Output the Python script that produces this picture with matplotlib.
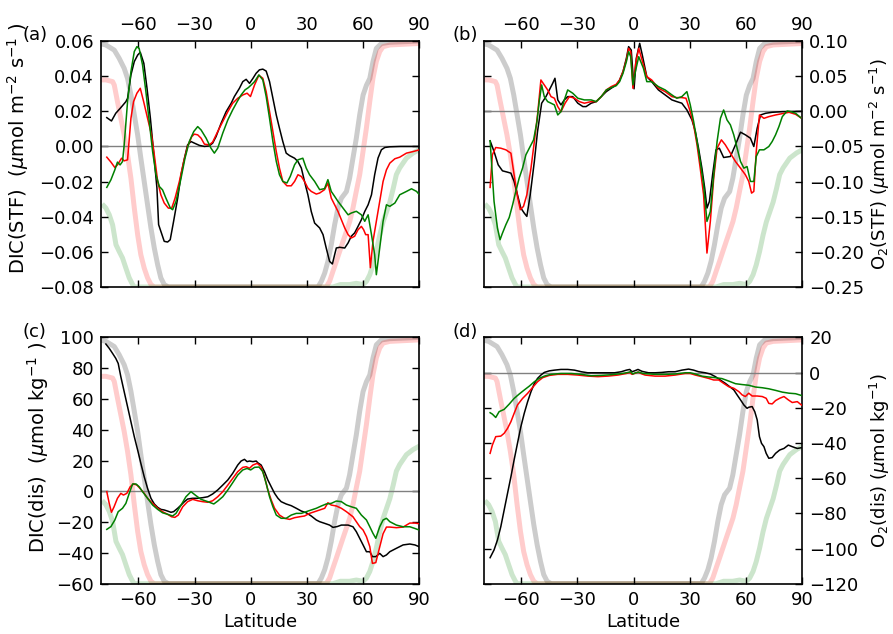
import matplotlib
matplotlib.use('Agg')
import matplotlib.pyplot as plt

plt.rcParams['font.family'] = ['DejaVu Sans']
plt.rcParams['mathtext.fontset'] = 'dejavusans'
FS = 13

# ---------------- background fraction curves (0..1 of panel height) ----------
gray_lat = [-78.5, -77.4, -72.9, -70.3, -67.6, -65.8, -64.0, -62.2, -60.4, -58.7, -56.9, -55.1, -53.3,
            -51.5, -49.7, -48.0, -46.2, -44.0, 34.0, 36.0, 37.8, 39.6, 41.3, 43.1, 44.9, 46.7,
            48.5, 51.2, 52.9, 54.7, 56.5, 58.3, 60.1, 61.9, 63.7, 65.4, 67.2, 69.9, 74.4, 90.0]
gray_frac = [0.986, 0.984, 0.963, 0.93, 0.889, 0.848, 0.781, 0.70, 0.618, 0.524, 0.429, 0.334, 0.24,
             0.158, 0.09, 0.037, 0.01, 0.0, 0.0, 0.0, 0.023, 0.057, 0.104, 0.172, 0.253, 0.321,
             0.361, 0.388, 0.442, 0.524, 0.605, 0.70, 0.78, 0.82, 0.848, 0.916, 0.97, 0.99, 0.995, 1.0]
pink_lat = [-78.5, -77.4, -73.8, -72.9, -71.2, -69.4, -67.6, -65.8, -64.0, -62.2, -60.4, -58.7, -56.9,
            -55.1, -53.3, -51.5, 40.4, 42.2, 44.0, 45.8, 47.6, 49.4, 51.2, 53.0, 54.7, 56.5, 58.3,
            60.1, 61.9, 63.7, 65.4, 67.2, 69.0, 70.8, 74.4, 79.7, 90.0]
pink_frac = [0.842, 0.842, 0.835, 0.821, 0.754, 0.686, 0.618, 0.537, 0.442, 0.321, 0.212, 0.131, 0.077,
             0.037, 0.01, 0.0, 0.0, 0.023, 0.064, 0.104, 0.145, 0.186, 0.226, 0.267, 0.321, 0.39,
             0.457, 0.552, 0.647, 0.755, 0.849, 0.917, 0.957, 0.977, 0.984, 0.986, 0.99]
lgreen_lat = [-78.5, -77.4, -75.6, -73.8, -72.0, -70.3, -68.5, -66.7, -64.9, -63.1, -62.2, 44.0, 48.0,
              52.9, 56.5, 60.1, 61.9, 63.7, 65.4, 67.2, 69.0, 70.8, 72.6, 74.4, 76.2, 77.9, 79.7,
              81.5, 83.3, 86.9, 90.0]
lgreen_frac = [0.33, 0.321, 0.294, 0.253, 0.172, 0.145, 0.118, 0.077, 0.037, 0.01, 0.0, 0.0, 0.01,
               0.01, 0.015, 0.01, 0.023, 0.05, 0.09, 0.145, 0.21, 0.265, 0.305, 0.345, 0.40, 0.457,
               0.484, 0.504, 0.524, 0.545, 0.558]

# ---------------- (a) DIC(STF) ----------------
a_k_lat = [-76.9, -74.4, -72.1, -69.4, -66.7, -65.8, -64.0, -62.2, -60.4, -59.0, -57.1, -55.4, -53.6,
           -51.9, -50.1, -49.2, -47.4, -46.2, -44.4, -43.0, -41.2, -39.0, -37.2, -35.4, -33.7, -31.9,
           -30.1, -27.4, -24.7, -22.1, -20.3, -18.5, -15.8, -13.1, -10.4, -8.7, -6.0, -4.2, -2.4, -0.6,
           1.2, 2.9, 4.7, 6.5, 8.3, 10.1, 11.9, 13.7, 15.4, 17.2, 19.0, 20.8, 23.5, 25.3, 27.1, 28.8,
           30.6, 32.4, 34.2, 36.9, 38.7, 40.4, 42.2, 43.7, 44.9, 45.8, 47.6, 50.3, 52.1, 53.8, 55.6,
           57.4, 59.2, 61.0, 62.8, 64.6, 66.3, 68.1, 69.9, 71.7, 74.4, 80.0, 90.0]
a_k = [0.0164, 0.0145, 0.0189, 0.0221, 0.0255, 0.0274, 0.0407, 0.0483, 0.052, 0.0536, 0.0473, 0.0331,
       0.0161, -0.0029, -0.0237, -0.0445, -0.0502, -0.054, -0.0544, -0.0531, -0.0427, -0.0294, -0.0161,
       -0.0067, 0.0009, 0.0028, 0.0019, 0.0006, 0.0, 0.0003, 0.0019, 0.0056, 0.0132, 0.0198, 0.0246,
       0.0284, 0.0331, 0.0369, 0.0382, 0.0359, 0.0387, 0.0416, 0.0436, 0.044, 0.0429, 0.0369, 0.0274,
       0.0179, 0.0104, 0.0028, -0.0038, -0.0052, -0.0067, -0.0086, -0.0123, -0.0199, -0.0275, -0.037,
       -0.0436, -0.0464, -0.0502, -0.0578, -0.0654, -0.0669, -0.0616, -0.0578, -0.0574, -0.0578,
       -0.0549, -0.0511, -0.0492, -0.0455, -0.0417, -0.037, -0.0332, -0.0275, -0.0161, -0.0066,
       -0.0019, -0.0006, -0.0002, 0.0, 0.0]
a_r_lat = [-76.9, -74.7, -72.6, -71.2, -69.0, -67.6, -65.8, -64.0, -62.6, -60.8, -59.0, -57.2, -55.1,
           -53.0, -51.5, -49.7, -48.0, -46.2, -44.0, -42.2, -40.4, -38.1, -35.8, -33.7, -31.5, -30.1,
           -28.3, -26.5, -24.7, -22.1, -20.3, -17.6, -14.9, -12.2, -9.6, -6.9, -4.2, -1.9, -0.1, 2.1,
           4.4, 6.5, 8.3, 10.1, 11.9, 13.7, 15.4, 17.2, 19.4, 21.7, 23.5, 25.3, 27.1, 28.8, 30.6, 32.4,
           35.1, 36.9, 39.5, 41.3, 43.1, 44.9, 46.7, 48.5, 50.3, 52.1, 53.8, 55.6, 57.4, 59.2, 60.4,
           61.5, 62.8, 64.0, 65.4, 67.2, 69.0, 70.8, 72.6, 74.4, 77.1, 79.7, 83.3, 86.9, 89.9]
a_r = [-0.0061, -0.0089, -0.012, -0.0105, -0.0067, -0.0082, -0.0076, 0.016, 0.0255, 0.0303, 0.0331,
       0.0255, 0.016, 0.0066, -0.0048, -0.0199, -0.0275, -0.0322, -0.0351, -0.0351, -0.0294, -0.0199,
       -0.0086, 0.0, 0.0056, 0.007, 0.0066, 0.0047, 0.0013, 0.0009, 0.0025, 0.0085, 0.0142, 0.0198,
       0.0246, 0.0274, 0.0293, 0.0303, 0.0284, 0.0350, 0.0405, 0.0388, 0.0312, 0.0199, 0.0085, -0.0029,
       -0.0123, -0.0199, -0.0224, -0.0224, -0.0199, -0.0161, -0.0171, -0.0199, -0.0237, -0.0256,
       -0.0271, -0.0265, -0.0246, -0.0209, -0.0294, -0.0332, -0.037, -0.0417, -0.0464, -0.0502,
       -0.0521, -0.0511, -0.0474, -0.0455, -0.0474, -0.0502, -0.0502, -0.069, -0.054, -0.0426,
       -0.0313, -0.0199, -0.0133, -0.0095, -0.007, -0.0061, -0.0038, -0.0029, -0.002]
a_g_lat = [-76.9, -74.7, -72.6, -71.2, -69.8, -68.5, -67.6, -65.8, -64.0, -62.2, -60.8, -59.6, -57.8,
           -56.0, -54.2, -52.4, -50.6, -48.8, -47.1, -45.3, -42.9, -41.7, -39.9, -37.2, -35.1, -32.8,
           -30.4, -28.3, -26.5, -23.8, -21.2, -19.4, -17.6, -14.9, -12.2, -9.6, -7.2, -5.1, -3.0, -1.2,
           0.3, 2.1, 4.4, 6.5, 8.3, 10.1, 11.9, 13.7, 15.4, 17.2, 19.4, 21.2, 23.5, 25.3, 27.9, 29.7,
           31.5, 34.2, 36.9, 39.5, 41.3, 43.1, 44.9, 46.7, 49.4, 52.1, 53.8, 56.5, 59.2, 61.0, 62.8,
           64.6, 66.3, 67.2, 69.0, 70.8, 72.6, 74.4, 77.1, 79.7, 83.3, 86.0, 88.7, 89.9]
a_g = [-0.0233, -0.019, -0.0133, -0.0089, -0.0105, -0.0086, 0.0009, 0.0255, 0.0426, 0.054, 0.0568,
       0.0558, 0.0464, 0.0312, 0.0142, -0.0029, -0.0161, -0.0228, -0.0247, -0.0294, -0.0351, -0.036,
       -0.0313, -0.018, -0.0067, 0.0028, 0.0085, 0.0113, 0.0094, 0.0047, -0.001, -0.0038, -0.001,
       0.0076, 0.0151, 0.0208, 0.0255, 0.0293, 0.0322, 0.0335, 0.035, 0.0369, 0.0407, 0.0379, 0.0284,
       0.016, 0.0028, -0.0085, -0.0161, -0.0199, -0.0208, -0.017, -0.0104, -0.0076, -0.0067, -0.0123,
       -0.0161, -0.0199, -0.0246, -0.024, -0.0189, -0.0256, -0.0284, -0.0313, -0.0351, -0.0389,
       -0.0379, -0.0369, -0.0389, -0.0426, -0.0389, -0.0502, -0.0616, -0.073, -0.0578, -0.0426,
       -0.0332, -0.0341, -0.0322, -0.0275, -0.0256, -0.0241, -0.0256, -0.0271]

# ---------------- (b) O2(STF) ----------------
b_k_lat = [-76.6, -74.5, -72.3, -70.0, -67.3, -65.5, -63.8, -62.0, -60.2, -58.4, -57.0, -55.2, -53.0,
           -51.3, -49.1, -46.8, -45.0, -43.2, -42.0, -40.5, -38.8, -37.0, -35.2, -32.5, -29.8, -27.1,
           -25.4, -22.7, -20.0, -17.3, -14.6, -12.0, -9.3, -7.5, -5.7, -3.9, -2.7, -1.3, 0.2, 1.4, 3.2,
           4.6, 7.0, 9.6, 13.2, 16.8, 20.4, 23.0, 25.7, 28.4, 31.1, 32.9, 34.6, 36.4, 37.9, 39.1, 40.4,
           42.1, 43.9, 45.7, 48.0, 51.6, 54.3, 57.0, 59.6, 62.3, 64.1, 65.9, 67.7, 70.4, 73.9, 79.3, 90.0]
b_k = [-0.042, -0.0572, -0.0761, -0.0847, -0.0866, -0.088, -0.0998, -0.1188, -0.1377, -0.1448,
       -0.1495, -0.1188, -0.0714, -0.0288, 0.0115, 0.0209, 0.0304, 0.0399, 0.047, 0.0162, 0.0091,
       0.0162, 0.0209, 0.0209, 0.0115, 0.0067, 0.0067, 0.0115, 0.0138, 0.0209, 0.028, 0.0328, 0.0375,
       0.0446, 0.0564, 0.0754, 0.092, 0.0872, 0.032, 0.0754, 0.0967, 0.08, 0.0493, 0.0422, 0.0304,
       0.0233, 0.0162, 0.0138, 0.0115, 0.0019, -0.0123, -0.0288, -0.0525, -0.0809, -0.1093, -0.1377,
       -0.1283, -0.0904, -0.0549, -0.0525, -0.0657, -0.0643, -0.0477, -0.0297, -0.0335, -0.0383,
       -0.0501, -0.024, -0.0052, -0.0028, -0.0014, -0.0005, 0.0]
b_r_lat = [-76.6, -75.4, -73.6, -70.9, -68.2, -65.5, -63.8, -62.0, -60.5, -58.8, -57.0, -54.8, -53.0,
           -51.3, -49.5, -47.7, -45.9, -44.1, -42.3, -40.5, -38.8, -36.6, -34.3, -31.6, -29.0, -26.3,
           -22.7, -20.0, -17.3, -14.6, -12.0, -9.3, -7.5, -5.7, -3.9, -2.7, -1.6, -0.4, 0.9, 2.7, 5.2,
           7.0, 9.6, 13.2, 16.8, 20.4, 23.0, 25.7, 27.9, 30.2, 32.0, 33.8, 35.5, 37.3, 39.1, 40.9, 42.7,
           44.5, 46.8, 48.9, 51.6, 54.3, 57.0, 59.6, 61.4, 62.9, 64.1, 65.4, 67.1, 69.5, 72.1, 75.7,
           79.3, 82.9, 86.4, 89.1]
b_r = [-0.1083, -0.0619, -0.0515, -0.0525, -0.0548, -0.0596, -0.0903, -0.1211, -0.14, -0.1353,
       -0.1188, -0.081, -0.043, -0.0052, 0.0446, 0.0375, 0.0304, 0.0209, 0.0186, 0.0067, -0.0005,
       0.0115, 0.0209, 0.0186, 0.0138, 0.0115, 0.0138, 0.0138, 0.0209, 0.0304, 0.0351, 0.0384, 0.0446,
       0.0564, 0.073, 0.0896, 0.0848, 0.0328, 0.066, 0.0896, 0.066, 0.0493, 0.0446, 0.0328, 0.028,
       0.0209, 0.0195, 0.0195, 0.0186, -0.0005, -0.0194, -0.0478, -0.0809, -0.1188, -0.2017, -0.1567,
       -0.0951, -0.0525, -0.0406, -0.0477, -0.0596, -0.0714, -0.0809, -0.0903, -0.0998, -0.1164,
       -0.114, -0.0572, -0.0052, -0.01, -0.0076, -0.0052, -0.0033, -0.0014, -0.0043, -0.009]
b_g_lat = [-76.6, -74.5, -72.7, -71.3, -70.0, -68.2, -66.4, -64.6, -62.9, -61.1, -59.3, -57.5, -55.7,
           -53.4, -51.6, -50.4, -49.1, -47.7, -45.9, -44.1, -42.3, -40.5, -38.8, -37.0, -35.2, -32.5,
           -29.8, -26.3, -22.7, -20.0, -17.3, -14.6, -12.0, -9.3, -7.5, -5.7, -3.9, -2.7, -1.6, -0.4,
           0.9, 2.7, 5.2, 7.0, 9.6, 13.2, 16.8, 20.4, 23.0, 25.7, 28.4, 30.2, 32.0, 33.8, 35.5, 37.3,
           39.1, 40.9, 42.7, 44.5, 46.3, 48.0, 49.8, 51.6, 53.4, 55.2, 57.0, 58.8, 60.5, 62.3, 64.1,
           65.4, 67.1, 69.5, 72.1, 73.9, 75.7, 77.5, 79.3, 81.9, 83.8, 86.4, 89.1]
b_g = [-0.042, -0.1282, -0.1661, -0.1827, -0.1733, -0.1614, -0.151, -0.133, -0.114, -0.0951,
       -0.0809, -0.0619, -0.0525, -0.0406, -0.0146, 0.0138, 0.0375, 0.0209, 0.0138, 0.0115, 0.0091,
       -0.0052, -0.0005, 0.0162, 0.0304, 0.0257, 0.0186, 0.0162, 0.0162, 0.0138, 0.0209, 0.0304,
       0.0337, 0.0365, 0.0422, 0.054, 0.0706, 0.0848, 0.0777, 0.0375, 0.0565, 0.0777, 0.0612, 0.0422,
       0.0422, 0.0351, 0.0304, 0.0233, 0.0186, 0.0209, 0.028, 0.0091, -0.0146, -0.043, -0.0714,
       -0.1046, -0.1567, -0.1425, -0.0903, -0.043, -0.0099, 0.0019, -0.0123, -0.0193, -0.0335,
       -0.0525, -0.0714, -0.0809, -0.0786, -0.0998, -0.0998, -0.0643, -0.0548, -0.0548, -0.0501,
       -0.043, -0.0335, -0.0217, -0.0076, 0.0005, -0.0005, -0.0028, -0.009]

# ---------------- (c) DIC(dis) ----------------
c_k_lat = [-77.4, -75.6, -73.8, -72.1, -70.8, -69.4, -67.6, -65.8, -64.0, -62.2, -60.4, -58.7, -56.9,
           -55.1, -53.3, -51.5, -49.7, -48.0, -46.2, -44.4, -42.6, -41.2, -39.0, -37.2, -35.4, -33.7,
           -31.0, -28.3, -25.6, -22.9, -20.3, -17.6, -14.9, -12.2, -9.6, -6.9, -5.1, -3.3, -1.9, -0.6,
           1.2, 3.0, 3.8, 5.6, 7.4, 9.2, 11.0, 12.8, 14.6, 16.3, 19.0, 21.7, 24.4, 27.1, 29.7, 32.4,
           35.1, 36.9, 39.6, 42.2, 44.0, 46.2, 48.5, 52.1, 54.7, 56.5, 58.3, 60.1, 61.9, 63.7, 65.1,
           66.9, 69.0, 70.8, 72.6, 74.4, 77.9, 81.5, 85.1, 87.8, 90.0]
c_k = [95.7, 92.9, 89.6, 86.4, 83.1, 74.5, 64.7, 55.0, 45.2, 35.5, 26.8, 18.2, 9.5, 1.9, -4.5, -8.2,
       -10.4, -11.7, -12.1, -12.8, -13.6, -13.2, -11.0, -8.9, -6.7, -5.0, -4.5, -4.5, -4.1, -3.5, -1.7,
       0.9, 4.1, 7.4, 11.7, 17.1, 19.7, 20.8, 19.3, 19.7, 19.3, 19.7, 18.6, 17.1, 12.8, 7.4, 3.0, -1.3,
       -4.5, -6.7, -8.2, -9.3, -11.0, -12.8, -13.9, -16.0, -18.6, -19.7, -20.8, -21.9, -23.4, -22.9,
       -21.9, -21.9, -23.0, -26.2, -30.5, -34.8, -39.2, -39.2, -42.4, -42.4, -40.3, -42.4, -41.3,
       -39.2, -37.0, -34.8, -34.2, -34.8, -35.9]
c_r_lat = [-76.9, -75.6, -74.4, -73.0, -71.2, -69.4, -68.0, -66.2, -64.4, -62.6, -60.8, -58.7, -56.9,
           -55.1, -52.4, -49.7, -47.1, -44.4, -42.3, -40.5, -38.7, -36.3, -33.7, -31.0, -28.3, -25.6,
           -22.9, -20.3, -17.6, -14.9, -12.2, -9.6, -6.9, -4.2, -2.4, -0.6, 1.2, 3.5, 5.6, 7.4, 9.2,
           11.0, 12.8, 15.4, 18.1, 20.8, 23.5, 26.2, 28.8, 31.5, 34.2, 36.9, 39.6, 41.3, 43.1, 45.8,
           48.5, 51.2, 53.0, 54.7, 56.5, 58.3, 60.1, 61.9, 63.7, 65.1, 66.9, 69.0, 70.8, 72.6, 74.4,
           77.9, 81.5, 85.1, 87.8, 90.0]
c_r = [-0.2, -7.8, -13.6, -10.0, -4.5, -1.3, -2.4, -1.3, 3.0, 4.8, 4.1, 1.3, -1.3, -4.5, -7.8, -11.0,
       -13.2, -14.9, -16.5, -16.9, -15.4, -10.0, -6.7, -5.2, -6.1, -6.7, -7.1, -6.1, -3.5, -0.2, 4.1,
       8.4, 12.8, 15.6, 16.0, 15.0, 17.1, 18.2, 16.0, 9.5, 0.9, -5.6, -11.0, -15.4, -17.5, -18.2,
       -17.1, -16.5, -16.0, -14.3, -13.2, -12.1, -11.0, -7.4, -8.9, -9.5, -11.0, -13.2, -14.9, -16.5,
       -19.7, -22.9, -25.1, -29.4, -35.9, -46.8, -46.3, -36.1, -27.5, -23.2, -23.2, -23.6, -23.2,
       -20.6, -20.6, -21.0]
c_g_lat = [-76.9, -74.7, -72.6, -70.8, -68.5, -66.7, -64.9, -63.1, -61.3, -59.6, -57.8, -55.1, -52.4,
           -49.7, -47.1, -44.4, -41.7, -39.9, -37.2, -34.6, -31.9, -29.2, -26.5, -22.9, -19.7, -17.6,
           -14.9, -12.2, -9.6, -6.9, -4.2, -1.9, 0.0, 2.1, 4.5, 6.5, 8.3, 10.1, 11.9, 13.7, 16.3, 19.0,
           21.7, 24.4, 27.1, 29.7, 32.4, 35.1, 37.8, 40.4, 43.1, 45.8, 48.5, 51.2, 53.8, 56.5, 59.2,
           61.9, 63.7, 65.4, 66.9, 69.0, 70.8, 72.6, 74.4, 77.9, 81.5, 85.1, 87.8, 90.0]
c_g = [-24.7, -22.9, -18.6, -13.2, -11.0, -7.8, -1.3, 4.8, 4.8, 3.0, -0.2, -4.5, -8.9, -11.7, -13.9,
       -14.9, -16.0, -14.3, -8.9, -3.5, -0.2, -2.8, -5.2, -6.7, -8.2, -6.3, -3.5, 0.9, 5.6, 10.6, 13.9,
       14.9, 13.9, 15.6, 15.8, 12.8, 5.2, -3.5, -10.0, -15.4, -17.5, -17.5, -15.4, -14.3, -14.3,
       -13.2, -12.1, -11.0, -9.5, -8.2, -7.8, -6.3, -6.7, -8.9, -10.0, -11.0, -15.4, -18.6, -23.0,
       -27.3, -30.5, -23.0, -18.6, -17.5, -19.7, -21.9, -23.0, -23.0, -24.1, -25.1]

# ---------------- (d) O2(dis) ----------------
d_k_lat = [-76.6, -74.5, -72.7, -70.9, -69.1, -67.3, -65.5, -63.8, -62.0, -60.2, -58.4, -56.6, -54.8,
           -53.0, -51.3, -49.5, -47.7, -45.0, -42.3, -38.8, -35.2, -31.6, -28.0, -24.5, -20.9, -17.3,
           -13.8, -10.2, -6.6, -3.9, -2.1, -0.9, 0.5, 2.3, 4.5, 7.9, 11.4, 15.0, 18.6, 22.1, 25.7, 29.3,
           32.0, 34.6, 38.2, 40.9, 43.6, 46.2, 48.9, 51.6, 53.4, 55.2, 57.0, 58.8, 60.5, 61.4, 63.2,
           64.6, 65.9, 67.1, 68.2, 69.5, 70.7, 72.1, 73.9, 75.7, 77.9, 80.2, 82.5, 84.6, 87.3, 89.5]
d_k = [-105.2, -100.8, -95.2, -87.6, -78.1, -68.6, -59.2, -49.7, -40.2, -30.8, -23.2, -16.6, -10.9,
       -6.2, -3.3, -1.4, 0.1, 1.0, 1.4, 1.8, 1.8, 1.4, 0.5, -0.1, -0.1, -0.1, -0.1, -0.1, 0.5, 1.4, 1.8,
       0.5, 1.0, 1.8, 0.7, -0.1, -0.1, 0.1, 0.5, 0.5, 1.4, 2.0, 1.4, 0.5, -0.1, -0.8, -2.3, -4.2, -6.1,
       -8.3, -9.8, -12.7, -15.5, -18.4, -20.3, -19.7, -19.3, -22.2, -26.9, -36.4, -40.2, -42.1, -45.9,
       -48.7, -48.3, -45.9, -44.0, -43.1, -41.2, -42.1, -43.1, -42.7]
d_r_lat = [-76.6, -75.4, -73.6, -70.9, -69.1, -67.3, -65.5, -63.8, -62.0, -59.3, -56.6, -53.9, -51.3,
           -48.6, -45.0, -40.5, -35.2, -29.8, -24.5, -19.1, -13.8, -8.4, -3.9, -2.1, -0.9, 0.5, 2.3, 4.5,
           6.1, 11.4, 16.8, 22.1, 27.5, 30.2, 32.9, 36.4, 40.0, 42.7, 45.4, 48.0, 50.7, 53.4, 56.1,
           57.9, 59.6, 61.4, 63.2, 65.9, 68.6, 70.7, 72.1, 73.9, 75.7, 77.9, 80.2, 82.5, 84.6, 87.3, 89.5]
d_r = [-45.9, -41.2, -36.4, -36.1, -34.5, -31.7, -27.9, -23.2, -18.4, -14.7, -11.8, -8.4, -5.2, -2.9,
       -1.6, -1.0, -1.0, -1.4, -2.0, -2.3, -2.0, -1.4, -0.5, 0.1, -1.0, -0.5, 0.3, -0.8, -1.4, -2.0,
       -2.0, -1.4, -0.5, -0.5, -1.4, -2.3, -3.3, -4.2, -4.2, -6.1, -8.0, -8.9, -10.8, -12.7, -13.6,
       -11.7, -13.3, -13.3, -13.6, -14.6, -17.5, -17.8, -15.9, -14.6, -13.6, -15.5, -17.0, -16.5, -18.4]
d_g_lat = [-76.6, -75.4, -73.6, -71.8, -69.1, -66.4, -63.8, -61.1, -58.4, -55.7, -53.0, -50.4, -47.7,
           -44.1, -38.8, -33.4, -28.0, -22.7, -17.3, -12.0, -6.6, -3.0, -1.6, -0.5, 0.9, 2.7, 5.0, 11.4,
           16.8, 22.1, 27.5, 30.2, 32.9, 36.4, 40.0, 43.6, 47.1, 50.7, 54.3, 57.9, 61.4, 65.0, 68.6,
           72.1, 75.7, 79.3, 82.9, 86.4, 89.5]
d_g = [-22.8, -23.6, -25.5, -22.2, -20.9, -17.9, -14.7, -12.2, -9.9, -7.7, -5.2, -3.3, -2.0, -1.0,
       -0.5, -0.5, -1.0, -1.8, -1.6, -1.2, -0.6, 0.1, 0.5, -0.8, -0.1, 0.3, -0.5, -1.0, -1.0, -0.8,
       -0.1, -0.1, -0.8, -2.0, -2.5, -2.9, -3.4, -4.8, -6.3, -6.8, -7.2, -8.2, -8.6, -9.2, -10.1,
       -11.1, -11.7, -12.0, -13.0]

xticks = [-60, -30, 0, 30, 60, 90]

panels = [
    dict(tag='(a)', pos=[0.1131, 0.5473, 0.3561, 0.3880], ylim=(-0.08, 0.06),
         yticks=[-0.08, -0.06, -0.04, -0.02, 0.0, 0.02, 0.04, 0.06],
         ylabel=r'DIC(STF)  ($\mu$mol m$^{-2}$ s$^{-1}$ )', top=True, right=False, lfs=14,
         lab=(-0.22, 0.565), tagxy=(0.039, 0.945),
         k=(a_k_lat, a_k), r=(a_r_lat, a_r), g=(a_g_lat, a_g)),
    dict(tag='(b)', pos=[0.5417, 0.5473, 0.3568, 0.3880], ylim=(-0.25, 0.10),
         yticks=[-0.25, -0.20, -0.15, -0.10, -0.05, 0.0, 0.05, 0.10],
         ylabel=r'O$_2$(STF) ($\mu$mol m$^{-2}$ s$^{-1}$)', top=True, right=True, lfs=13,
         lab=(1.205, 0.5), tagxy=(0.521, 0.945),
         k=(b_k_lat, b_k), r=(b_r_lat, b_r), g=(b_g_lat, b_g)),
    dict(tag='(c)', pos=[0.1131, 0.0793, 0.3561, 0.3885], ylim=(-60, 100),
         yticks=[-60, -40, -20, 0, 20, 40, 60, 80, 100],
         ylabel=r'DIC(dis)  ($\mu$mol kg$^{-1}$ )', top=False, right=False, lfs=14,
         lab=(-0.157, 0.555), tagxy=(0.039, 0.477),
         k=(c_k_lat, c_k), r=(c_r_lat, c_r), g=(c_g_lat, c_g)),
    dict(tag='(d)', pos=[0.5417, 0.0793, 0.3568, 0.3885], ylim=(-120, 20),
         yticks=[-120, -100, -80, -60, -40, -20, 0, 20],
         ylabel=r'O$_2$(dis) ($\mu$mol kg$^{-1}$)', top=False, right=True, lfs=13,
         lab=(1.205, 0.5), tagxy=(0.521, 0.477),
         k=(d_k_lat, d_k), r=(d_r_lat, d_r), g=(d_g_lat, d_g)),
]

fig = plt.figure(figsize=(8.93, 6.34), dpi=100)

for p in panels:
    ax = fig.add_axes(p['pos'])
    tr = ax.get_xaxis_transform()
    for lat, fr, c in [(gray_lat, gray_frac, 'k'), (pink_lat, pink_frac, 'r'),
                       (lgreen_lat, lgreen_frac, 'g')]:
        ax.plot(lat, fr, color=c, alpha=0.2, lw=3.6, transform=tr, zorder=1)
    ax.axhline(0, color='gray', lw=1.0, zorder=2)
    for key, c in [('k', 'k'), ('r', 'r'), ('g', 'g')]:
        lat, val = p[key]
        ax.plot(lat, val, color=c, lw=1.1, zorder=3)
    ax.set_xlim(-80, 90)
    ax.set_ylim(*p['ylim'])
    ax.set_xticks(xticks)
    ax.set_yticks(p['yticks'])
    ax.tick_params(direction='in', length=5, width=1.0, labelsize=FS, pad=5,
                   top=True, bottom=True, left=True, right=True,
                   labeltop=p['top'], labelbottom=not p['top'],
                   labelright=p['right'], labelleft=not p['right'])
    for s in ax.spines.values():
        s.set_linewidth(1.2)
    if p['right']:
        ax.yaxis.set_label_position('right')
    ax.set_ylabel(p['ylabel'], fontsize=p['lfs'])
    ax.yaxis.set_label_coords(*p['lab'])
    if not p['top']:
        ax.set_xlabel('Latitude', fontsize=FS, labelpad=3)
    fig.text(p['tagxy'][0], p['tagxy'][1], p['tag'], fontsize=FS, ha='center', va='center')

fig.savefig('out.png', dpi=100)
